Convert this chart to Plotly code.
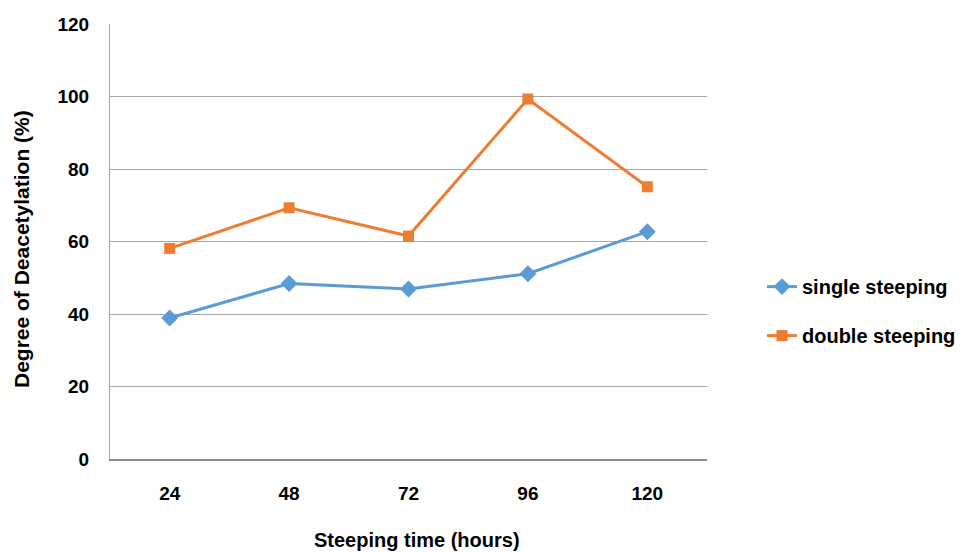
import plotly.graph_objects as go

categories = ["24", "48", "72", "96", "120"]
single_steeping = [38.9, 48.4, 46.9, 51.1, 62.7]
double_steeping = [58.1, 69.3, 61.5, 99.3, 75.1]
y_ticks = [0, 20, 40, 60, 80, 100, 120]

font_family = "Liberation Sans, Arial, sans-serif"

fig = go.Figure()
fig.add_trace(go.Scatter(
    x=categories, y=single_steeping, name="single steeping", mode="lines+markers",
    line=dict(color="#5B9BD5", width=3),
    marker=dict(symbol="diamond", size=13, color="#5B9BD5"),
    legendgroup="a",
))
fig.add_trace(go.Scatter(
    x=categories, y=double_steeping, name="double steeping", mode="lines+markers",
    line=dict(color="#ED7D31", width=3),
    marker=dict(symbol="square", size=11, color="#ED7D31"),
    legendgroup="b",
))

fig.update_layout(
    width=967, height=552,
    margin=dict(l=110, r=260, t=24, b=93, autoexpand=False),
    paper_bgcolor="white", plot_bgcolor="white",
    font=dict(family=font_family, size=19, color="black", weight="bold"),
    showlegend=True,
    legend=dict(x=(762 - 110) / 597, y=0.34, xanchor="left", yanchor="middle",
                font=dict(size=20, family=font_family, color="black", weight="bold"),
                tracegroupgap=20, itemwidth=30, bgcolor="rgba(0,0,0,0)"),
    xaxis=dict(
        type="category", range=[-0.5, 4.5], showgrid=False, showline=True,
        linecolor="#8C8C8C", linewidth=2, automargin=False,
        ticks="", ticklabelstandoff=16,
        tickfont=dict(size=19, weight="bold"),
    ),
    yaxis=dict(
        range=[0, 120], tickvals=y_ticks, showgrid=True, gridcolor="#A6A6A6", gridwidth=1,
        showline=True, linecolor="#A6A6A6", linewidth=1, zeroline=False, automargin=False,
        ticks="", ticklabelstandoff=16,
        tickfont=dict(size=19, weight="bold"),
    ),
    annotations=[
        dict(text="Steeping time (hours)", xref="paper", yref="paper",
             x=(417 - 110) / 597, y=-(540 - 459) / 435, xanchor="center", yanchor="middle",
             showarrow=False, font=dict(size=20, family=font_family, weight="bold")),
        dict(text="Degree of Deacetylation (%)", xref="paper", yref="paper",
             x=-(110 - 22) / 597, y=(459 - 249) / 435, xanchor="center", yanchor="middle",
             textangle=-90, showarrow=False,
             font=dict(size=21, family=font_family, weight="bold")),
    ],
)

fig.write_html("out.html")
